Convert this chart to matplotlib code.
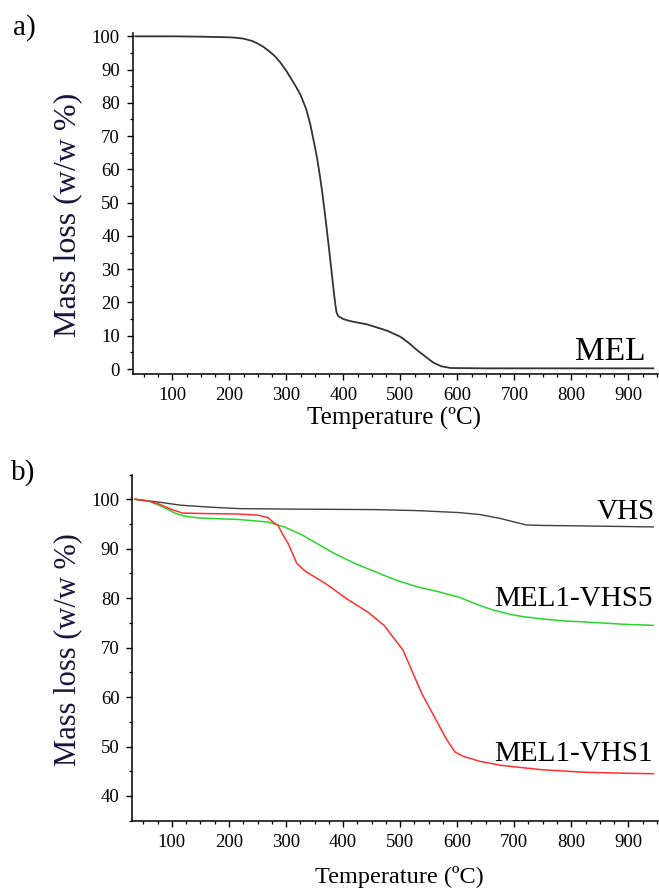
import matplotlib
matplotlib.use("Agg")
import matplotlib.pyplot as plt
from matplotlib.ticker import MultipleLocator

plt.rcParams['font.family'] = ['Liberation Serif', 'DejaVu Serif']

# TGA of pure MEL
mel_temp = [35, 100, 150, 200, 210, 225, 240, 250, 260, 270, 280, 290, 300, 310, 318,
            325, 335, 342, 348, 354, 359, 363, 367, 371, 375, 379, 383, 386, 388, 391,
            400, 412, 442, 477, 500, 515, 529, 545, 558, 572, 588, 650, 750, 850, 944]
mel_mass = [100, 100, 99.9, 99.7, 99.6, 99.3, 98.6, 97.8, 96.8, 95.5, 94.0, 92.0, 89.6, 86.8, 84.5,
            82.3, 78.0, 73.5, 68.5, 63.3, 57.8, 53.0, 47.5, 41.8, 35.8, 29.7, 23.5, 19.2, 17.0, 15.9,
            15.0, 14.4, 13.4, 11.5, 9.7, 7.8, 5.7, 3.6, 1.9, 0.8, 0.3, 0.2, 0.2, 0.2, 0.2]

# TGA of VHS and the two MEL/VHS ratios
vhs_temp = [35, 78, 115, 166, 218, 312, 457, 530, 603, 640, 676, 700, 721, 749, 822, 944]
vhs_mass = [100, 99.4, 98.8, 98.4, 98.1, 98.0, 97.9, 97.7, 97.3, 96.9, 96.1, 95.4, 94.8, 94.7, 94.6, 94.4]

vhs5_temp = [35, 60, 85, 105, 122, 148, 218, 268, 297, 326, 355, 385, 421, 457, 494, 530,
             567, 603, 640, 663, 690, 713, 749, 786, 822, 895, 944]
vhs5_mass = [100, 99.6, 98.4, 97.2, 96.6, 96.2, 95.9, 95.4, 94.4, 92.9, 91.0, 89.0, 87.0, 85.3, 83.6, 82.3,
             81.3, 80.2, 78.5, 77.6, 76.8, 76.3, 75.8, 75.4, 75.2, 74.7, 74.5]

vhs1_temp = [35, 60, 78, 100, 119, 160, 218, 250, 268, 279, 286, 296, 304, 319, 333, 370, 406,
             443, 472, 483, 505, 523, 538, 560, 581, 596, 611, 640, 676, 749, 822, 895, 944]
vhs1_mass = [100, 99.6, 99.0, 97.9, 97.2, 97.1, 97.0, 96.8, 96.3, 95.2, 94.7, 92.5, 91.0, 87.0, 85.5, 82.9, 79.9,
             77.2, 74.5, 72.8, 69.5, 64.7, 60.7, 56.0, 51.5, 48.9, 48.0, 47.0, 46.2, 45.3, 44.8, 44.6, 44.5]

W, H = 659, 888
fig = plt.figure(figsize=(W / 100, H / 100), dpi=100)


def px_axes(left, top, right, bottom):
    return fig.add_axes([left / W, 1 - bottom / H, (right - left) / W, (bottom - top) / H])


def style(ax):
    for s in ['top', 'right']:
        ax.spines[s].set_visible(False)
    for s in ['left', 'bottom']:
        ax.spines[s].set_linewidth(1.1)
    ax.xaxis.set_major_locator(MultipleLocator(100))
    ax.xaxis.set_minor_locator(MultipleLocator(25))
    ax.yaxis.set_major_locator(MultipleLocator(10))
    ax.yaxis.set_minor_locator(MultipleLocator(5))
    ax.tick_params(which='major', length=4.5, width=1.0, labelsize=13.5)
    ax.tick_params(which='minor', length=2.5, width=0.9)
    ax.tick_params(axis='x', pad=5)
    ax.tick_params(axis='y', pad=4.5)
    ax.set_xlim(30, 952)


# a) MEL
ax1 = px_axes(132.5, 33, 658, 374)
style(ax1)
ax1.plot(mel_temp, mel_mass, color='#333333', lw=1.3)
ax1.set_ylim(-1.5, 101)
ax1.set_xticks(range(100, 1000, 100))
ax1.text(930, 2.7, 'MEL', fontsize=24, ha='right', va='baseline')
fig.text(68 / W, 1 - 215 / H, 'Mass loss (w/w %)', rotation=90, fontsize=23,
         ha='center', va='center', color='#16163f')
fig.text(394 / W, 1 - 418 / H, 'Temperature (ºC)', fontsize=18, ha='center', va='center')
fig.text(13 / W, 1 - 28 / H, 'a)', fontsize=21, ha='left', va='center')

# b) VHS and MEL1-VHS blends
ax2 = px_axes(132, 474.5, 658, 820.7)
style(ax2)
ax2.plot(vhs_temp, vhs_mass, color='#404040', lw=1.0)
ax2.plot(vhs5_temp, vhs5_mass, color='#2bd42b', lw=1.1)
ax2.plot(vhs1_temp, vhs1_mass, color='#ff3030', lw=1.1)
ax2.set_ylim(35, 105)
ax2.set_yticks(range(40, 101, 10))
ax2.text(947, 96.0, 'VHS', fontsize=21, ha='right', va='baseline')
ax2.text(943, 78.4, 'MEL1-VHS5', fontsize=21, ha='right', va='baseline')
ax2.text(943, 47.1, 'MEL1-VHS1', fontsize=21, ha='right', va='baseline')
fig.text(68 / W, 1 - 650 / H, 'Mass loss (w/w %)', rotation=90, fontsize=22,
         ha='center', va='center', color='#16163f')
fig.text(399 / W, 1 - 877 / H, 'Temperature (ºC)', fontsize=17.5, ha='center', va='center')
fig.text(11 / W, 1 - 473 / H, 'b)', fontsize=21, ha='left', va='center')

fig.savefig('out.png', dpi=100)
